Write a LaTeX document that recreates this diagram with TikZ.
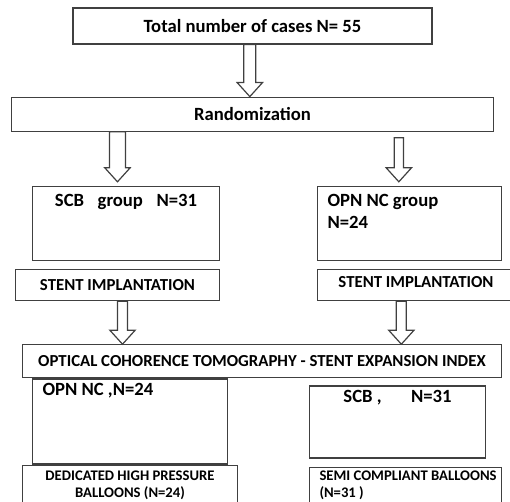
\documentclass[tikz,border=0pt]{standalone}
\usepackage{fontspec}
\setmainfont{Carlito}
\usetikzlibrary{calc,
                positioning}
\tikzset{
        box/.style={draw=black!75, line width=0.9pt, inner sep=0pt,
                    font=\bfseries\fontsize{14}{16.5}\selectfont},
        caps/.style={font=\bfseries\fontsize{12.6}{15}\selectfont},
        small/.style={font=\bfseries\fontsize{11}{12.75}\selectfont},
        blockarrow/.style={draw=black!75, line width=0.9pt,
                to path={let \p1=(\tikztostart), \p2=(\tikztotarget) in
                (\x1-#1,\y1) -- (\x1-#1,\y2+10.5pt) -- (\x1-9.5pt,\y2+10.5pt)
                -- (\x1,\y2) -- (\x1+9.5pt,\y2+10.5pt) -- (\x1+#1,\y2+10.5pt)
                -- (\x1+#1,\y1) -- cycle}},
        blockarrow/.default=4.5pt,
 }

\begin{document}
\begin{tikzpicture}[x=0.75pt, y=-0.75pt]
    \path[use as bounding box, clip] (0,0) rectangle (510,502);

    \node[box, minimum width=269.25pt, minimum height=27pt] (total) at (252.5,26) {Total number of cases N= 55};
    \node[box, below=39pt of total, minimum width=361.5pt, minimum height=25.5pt] (rand) {Randomization};

    \node[box, below right=40.5pt and 15.75pt of rand.south west, minimum width=140.25pt, minimum height=55.5pt,
          label={[box, draw=none, anchor=north, yshift=-6pt]north:SCB\enspace\ group\enspace\ N=31}] (scb) {};
    \node[box, below left=40.5pt and -6pt of rand.south east, minimum width=138pt, minimum height=55.5pt,
          label={[box, draw=none, anchor=north west, align=left, xshift=7.5pt, yshift=-6pt]north west:OPN NC group\\N=24}] (opn) {};

    \node[box, caps, below left=6pt and 0pt of scb.south east, minimum width=153pt, minimum height=23.25pt] (stent1) {STENT IMPLANTATION};
    \node[box, caps, below right=6pt and 0pt of opn.south west, minimum width=147.75pt, minimum height=23.25pt,
          text depth=5pt] (stent2) {STENT IMPLANTATION};

    \node[box, caps, below right=32.25pt and 5.25pt of stent1.south west, minimum width=359.25pt, minimum height=24.75pt] (oct)
          {OPTICAL COHORENCE TOMOGRAPHY - STENT EXPANSION INDEX};

    % results, left and right
    \node[box, below right=0pt and 7.5pt of oct.south west, minimum width=146.25pt, minimum height=63.75pt,
          label={[box, draw=none, anchor=north west, xshift=7.5pt, yshift=-3.5pt]north west:OPN NC ,N=24}] (opnres) {};
    \node[box, below right=0pt and -7.5pt of opnres.south west, minimum width=161.25pt, minimum height=45pt,
          label={[box, small, draw=none, anchor=north, align=center, yshift=-4pt]north:DEDICATED HIGH PRESSURE\\BALLOONS (N=24)}] (ded) {};

    \node[box, below left=5.25pt and 12pt of oct.south east, minimum width=132pt, minimum height=54pt,
          label={[box, draw=none, anchor=north, yshift=-3pt]north:SCB ,\hspace{22pt}N=31}] (scbres) {};
    \node[box, below right=6pt and 0pt of scbres.south west, minimum width=144pt, minimum height=45pt,
          label={[box, small, draw=none, anchor=north west, align=left, xshift=7.5pt, yshift=-3pt]north west:SEMI COMPLIANT BALLOONS\\(N=31 )}] (semi) {};

    \draw[blockarrow] ([xshift=-2pt]total.south) to (rand.north);
    \draw[blockarrow=6pt] ([xshift=-6.4pt]rand.south -| scb.north) to ([yshift=3pt]scb.north);
    \draw[blockarrow=3.5pt] ([xshift=-8pt, yshift=-4.5pt]rand.south -| opn.north) to ([yshift=3pt]opn.north);
    \draw[blockarrow=3.75pt] ([xshift=3.75pt]stent1.south) to (oct.north);
    \draw[blockarrow=3.75pt] ([xshift=-11pt]stent2.south) to (oct.north);
\end{tikzpicture}
\end{document}
